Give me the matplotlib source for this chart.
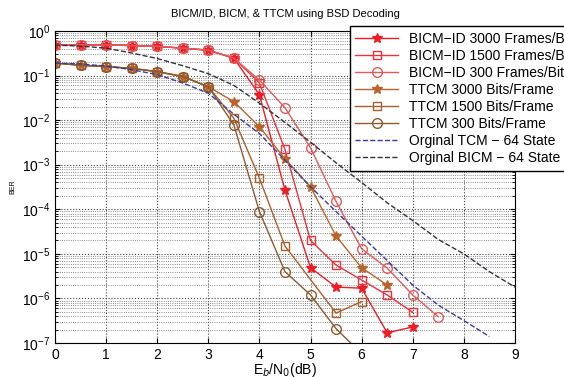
import matplotlib
matplotlib.use('Agg')
import matplotlib.pyplot as plt
from matplotlib.ticker import LogLocator, NullFormatter

plt.rcParams['font.family'] = ['Liberation Sans', 'DejaVu Sans']

# shared start of the curves
x_bicm_id = [0, 0.5, 1, 1.5, 2, 2.5, 3, 3.5]
ber_bicm_id = [0.48, 0.485, 0.485, 0.47, 0.45, 0.41, 0.37, 0.245]
x_ttcm = [0, 0.5, 1, 1.5, 2, 2.5, 3]
ber_ttcm = [0.19, 0.17, 0.158, 0.145, 0.122, 0.095, 0.056]

# BICM-ID tails
x_id3000 = [4, 4.5, 5, 5.5, 6, 6.5, 7]
ber_id3000 = [3.7e-2, 2.7e-4, 4.9e-6, 1.8e-6, 1.7e-6, 1.7e-7, 2.3e-7]
x_id1500 = [4, 4.5, 5, 5.5, 6, 6.5, 7]
ber_id1500 = [6.8e-2, 2.2e-3, 2.0e-5, 5.6e-6, 2.6e-6, 1.2e-6, 4.9e-7]
x_id300 = [4, 4.5, 5, 5.5, 6, 6.5, 7, 7.5]
ber_id300 = [7.9e-2, 1.9e-2, 2.4e-3, 1.5e-4, 1.3e-5, 4.8e-6, 1.2e-6, 3.9e-7]

# TTCM tails
x_tt3000 = [3.5, 4, 4.5, 5, 5.5, 6, 6.5]
ber_tt3000 = [2.6e-2, 7.1e-3, 1.35e-3, 3.2e-4, 2.5e-5, 4.9e-6, 2.0e-6]
x_tt1500 = [3.5, 4, 4.5, 5.5, 6]
ber_tt1500 = [1.1e-2, 5.0e-4, 1.5e-5, 4.7e-7, 8.5e-7]
x_tt300 = [3.5, 4, 4.5, 5, 5.5, 6]
ber_tt300 = [7.8e-3, 8.9e-5, 4.0e-6, 1.2e-6, 2.1e-7, 5.8e-8]

# reference curves
x_tcm = [0, 0.5, 1, 1.5, 2, 2.5, 3, 3.5, 4, 4.5, 5, 5.5, 6, 6.5, 7, 7.5, 8, 8.5]
ber_tcm = [0.19, 0.182, 0.162, 0.135, 0.105, 0.068, 0.040, 0.0135, 5.0e-3,
           1.26e-3, 3.2e-4, 8.9e-5, 2.5e-5, 7.1e-6, 2.0e-6, 7.1e-7, 3.2e-7, 1.4e-7]
x_bicm = [0, 0.5, 1, 1.5, 2, 2.5, 3, 3.5, 4, 4.5, 5, 5.5, 6, 6.5, 7, 7.5, 8, 8.5, 9]
ber_bicm = [0.48, 0.457, 0.41, 0.32, 0.24, 0.166, 0.11, 0.060, 0.024, 8.9e-3,
            3.2e-3, 1.1e-3, 4.0e-4, 1.4e-4, 5.6e-5, 2.1e-5, 1.0e-5, 4.0e-6, 1.8e-6]

labels = ['BICM\u2212ID 3000 Frames/Bits', 'BICM\u2212ID 1500 Frames/Bits',
          'BICM\u2212ID 300 Frames/Bits', 'TTCM 3000 Bits/Frame',
          'TTCM 1500 Bits/Frame', 'TTCM 300 Bits/Frame',
          'Orginal TCM \u2212 64 State', 'Orginal BICM \u2212 64 State']

fig = plt.figure(figsize=(5.64, 3.77), dpi=100)
ax = fig.add_axes([0.0975, 0.090, 0.8155, 0.828])

red1, red2, red3 = '#ee1c24', '#e8323c', '#e05a5a'
br1, br2, br3 = '#b8642a', '#a8602e', '#8b5a30'

ax.plot(x_bicm_id + x_id3000, ber_bicm_id + ber_id3000, '-', color=red1, marker='*', ms=7, lw=1.0, label=labels[0])
ax.plot(x_bicm_id + x_id1500, ber_bicm_id + ber_id1500, '-', color=red2, marker='s', ms=6, mfc='none', lw=1.0, label=labels[1])
ax.plot(x_bicm_id + x_id300, ber_bicm_id + ber_id300, '-', color=red3, marker='o', ms=7, mfc='none', lw=1.0, label=labels[2])
ax.plot(x_ttcm + x_tt3000, ber_ttcm + ber_tt3000, '-', color=br1, marker='*', ms=7, lw=1.0, label=labels[3])
ax.plot(x_ttcm + x_tt1500, ber_ttcm + ber_tt1500, '-', color=br2, marker='s', ms=6, mfc='none', lw=1.0, label=labels[4])
ax.plot(x_ttcm + x_tt300, ber_ttcm + ber_tt300, '-', color=br3, marker='o', ms=7, mfc='none', lw=1.0, label=labels[5])
ax.plot(x_tcm, ber_tcm, '--', color='#3a3aa0', lw=1.0, label=labels[6])
ax.plot(x_bicm, ber_bicm, '--', color='#333340', lw=1.0, label=labels[7])

ax.set_yscale('log')
ax.set_xlim(0, 9)
ax.set_ylim(1e-7, 1)
ax.set_xticks(range(10))
ax.yaxis.set_major_locator(LogLocator(base=10, numticks=10))
ax.yaxis.set_minor_locator(LogLocator(base=10, subs=range(2, 10), numticks=100))
ax.yaxis.set_minor_formatter(NullFormatter())
ax.tick_params(direction='in', which='both', top=True, right=True, labelsize=10)
ax.grid(True, which='major', linestyle=':', color='#444444', lw=0.8)
ax.grid(True, which='minor', axis='y', linestyle=':', color='#666666', lw=0.6)

ax.set_title('BICM/ID, BICM, & TTCM using BSD Decoding', fontsize=8, pad=10)
ax.set_xlabel('E$_b$/N$_0$(dB)', fontsize=10, labelpad=-1)
ax.set_ylabel('BER', fontsize=5)

ax.legend(loc='upper left', bbox_to_anchor=(0.62, 0.93), bbox_transform=fig.transFigure,
          fontsize=10, fancybox=False, edgecolor='black', framealpha=1,
          handlelength=3.1, labelspacing=0.22, borderaxespad=0)

fig.savefig('out.png', dpi=100)
